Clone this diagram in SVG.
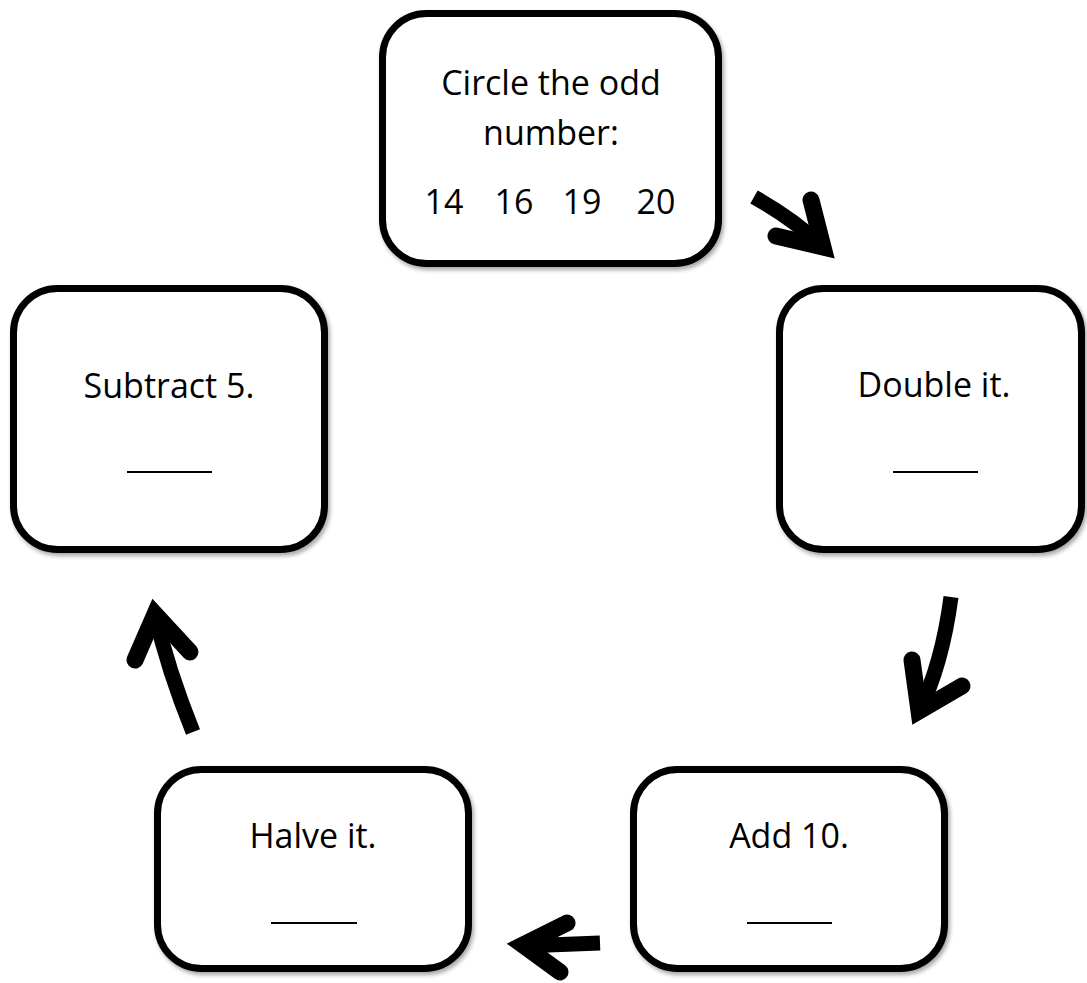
<svg xmlns="http://www.w3.org/2000/svg" width="1087" height="983" viewBox="0 0 1087 983">
<defs>
<filter id="sh" x="-10%" y="-10%" width="120%" height="120%">
<feDropShadow dx="2" dy="3" stdDeviation="2" flood-color="#000" flood-opacity="0.35"/>
</filter>
<style>
.box{fill:#fff;stroke:#000;stroke-width:7;filter:url(#sh)}
.t{font-family:"Open Sans","Liberation Sans",sans-serif;font-size:34px;fill:#000;text-anchor:middle}
.ul{stroke:#000;stroke-width:2}
.shaft{fill:none;stroke:#000;stroke-width:15;stroke-linecap:butt}
.head{fill:none;stroke:#000;stroke-width:17;stroke-linecap:round;stroke-linejoin:miter;stroke-miterlimit:6}
</style>
</defs>
<rect width="1087" height="983" fill="#fff"/>
<g id="node-start">
<rect class="box" x="382.5" y="13.5" width="336" height="250" rx="44"/>
<text class="t" x="551" y="95">Circle the odd</text>
<text class="t" x="551" y="145">number:</text>
<text class="t" x="444" y="214">14</text>
<text class="t" x="514" y="214">16</text>
<text class="t" x="582" y="214">19</text>
<text class="t" x="656" y="214">20</text>
</g>
<g id="node-double">
<rect class="box" x="779.5" y="288.5" width="302" height="261" rx="44"/>
<text class="t" x="934" y="397">Double it.</text>
<line class="ul" x1="893" y1="472" x2="978" y2="472"/>
</g>
<g id="node-add">
<rect class="box" x="633.5" y="769.5" width="311" height="199" rx="44"/>
<text class="t" x="789" y="848">Add 10.</text>
<line class="ul" x1="747" y1="923" x2="832" y2="923"/>
</g>
<g id="node-halve">
<rect class="box" x="157.5" y="769.5" width="311" height="199" rx="44"/>
<text class="t" x="313" y="848">Halve it.</text>
<line class="ul" x1="271" y1="923" x2="357" y2="923"/>
</g>
<g id="node-subtract">
<rect class="box" x="13.5" y="288.5" width="311" height="261" rx="44"/>
<text class="t" x="169" y="398">Subtract 5.</text>
<line class="ul" x1="127" y1="472" x2="212" y2="472"/>
</g>
<g id="connectors">
<path class="shaft" d="M754,197 Q795,220 823,247"/>
<polyline class="head" points="776,236 823,247 811,200"/>
<path class="shaft" d="M951,597 Q942,665 919,711"/>
<polyline class="head" points="912,660 919,711 962,686"/>
<path class="shaft" d="M600,943 L523,946"/>
<polyline class="head" points="567,923 523,945 560,972"/>
<path class="shaft" d="M193,732 Q168,670 155,614"/>
<polyline class="head" points="135,660 155,614 190,652"/>
</g>
</svg>
